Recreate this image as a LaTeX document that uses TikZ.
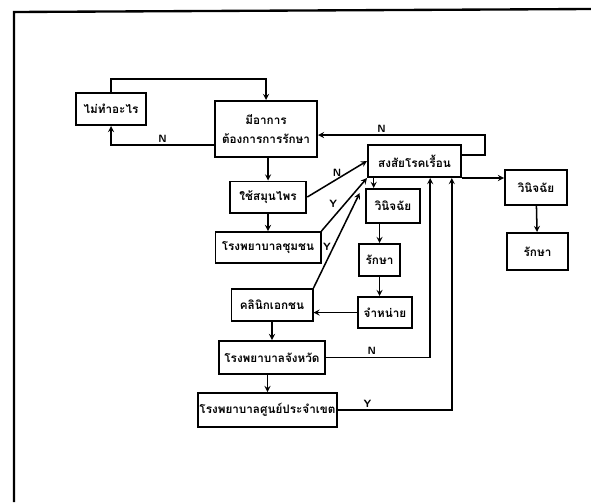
\documentclass[tikz,border=0pt]{standalone}
\usepackage{fontspec}
\newfontfamily\thaifont[Script=Thai]{Loma}
\usetikzlibrary{positioning,calc}

\begin{document}
\begin{tikzpicture}[
    x=0.03cm, y=-0.03cm,
% Block styles
    box/.style={rectangle, draw=black, line width=1.7pt, fill=white, font=\thaifont\bfseries\fontsize{10}{12}\selectfont, align=center, inner sep=1pt},
    yn/.style={font=\sffamily\bfseries\small, inner sep=1.5pt},
    flow/.style={->, >=stealth, line width=1.3pt}
]
\useasboundingbox (0,0) rectangle (591,502);

% Page frame
\draw[line width=2pt] (14,502) -- (14,12) -- (591,9);

% 1. Left column (first care steps)
\node[box, minimum width=2.1cm, minimum height=0.96cm] (nothing) at (111,109) {ไม่ทำอะไร};
\node[box, minimum width=3.06cm, minimum height=1.68cm] (symptom) at (266,129) {มีอาการ\\[4pt]ต้องการการรักษา};
\node[box, minimum width=2.3cm, minimum height=0.93cm] (herb) at (268,197) {ใช้สมุนไพร};
\node[box, minimum width=3.15cm, minimum height=0.93cm] (commhosp) at (268,247.5) {โรงพยาบาลชุมชน};
\node[box, minimum width=2.43cm, minimum height=0.96cm] (clinic) at (272,305) {คลินิกเอกชน};
\node[box, minimum width=3.18cm, minimum height=0.99cm] (provhosp) at (272,357.5) {โรงพยาบาลจังหวัด};
\node[box, minimum width=4.17cm, minimum height=1.02cm] (regionhosp) at (267.5,410) {โรงพยาบาลศูนย์ประจำเขต};

% 2. Right column (suspected case)
\node[box, minimum width=2.79cm, minimum height=0.96cm] (suspect) at (414.5,161) {สงสัยโรคเรื้อน};
\node[box, minimum width=1.62cm, minimum height=1.02cm] (diagA) at (393,206) {วินิจฉัย};
\node[box, minimum width=1.23cm, minimum height=0.96cm] (treatA) at (379.5,260) {รักษา};
\node[box, minimum width=1.62cm, minimum height=0.93cm] (discharge) at (385,312.5) {จำหน่าย};
\node[box, minimum width=1.86cm, minimum height=1.05cm] (diagB) at (536,187.5) {วินิจฉัย};
\node[box, minimum width=1.83cm, minimum height=1.11cm] (treatB) at (537.5,251.5) {รักษา};

% Arrows left column
\draw[flow] (nothing.north) -- ++(0,-13) -| (symptom.north);
\draw[flow] ([yshift=-0.48cm]symptom.west) -| (nothing.south) node[yn, pos=0.25, above] {N};
\draw[flow] (symptom.south -| herb) -- (herb.north);
\draw[flow] (herb) -- (commhosp);
\draw[flow] (clinic) -- (provhosp);
\draw[flow] (provhosp.south -| regionhosp) -- (regionhosp.north);

% Arrows towards the suspected case
\draw[flow] (herb.east) -- (suspect.west) node[yn, midway, above] {N};
\draw[flow] (commhosp.north east) -- (suspect.south west) node[yn, pos=0.4, above left] {Y};
\draw[flow, shorten >=0.5cm] (clinic.north east) -- (suspect.south west) node[yn, pos=0.37, left] {Y};
\draw[flow] (provhosp.east) -| ([xshift=0.47cm]suspect.south) node[yn, pos=0.22, above] {N};
\draw[flow] (regionhosp.east) -| ([xshift=1.12cm]suspect.south) node[yn, pos=0.13, above] {Y};

% 3. Diagnosis and treatment
\draw[flow] ([xshift=0.2cm]suspect.south west) -- ([xshift=0.2cm]suspect.south west |- diagA.north);
\draw[flow] (diagA.south -| treatA) -- (treatA.north);
\draw[flow] (treatA.south) -- (treatA.south |- discharge.north);
\draw[flow] (discharge.west) -- (discharge.west -| clinic.east);
\draw[flow] (suspect.south east) -- (suspect.south east -| diagB.west);
\draw[flow] (diagB) -- (treatB);

% Loop back to symptoms
\coordinate (loopcorner) at (485,135);
\draw[flow] ([yshift=0.18cm]suspect.east) -| (loopcorner) -- (loopcorner -| symptom.east) node[yn, pos=0.62, above] {N};

\end{tikzpicture}
\end{document}
